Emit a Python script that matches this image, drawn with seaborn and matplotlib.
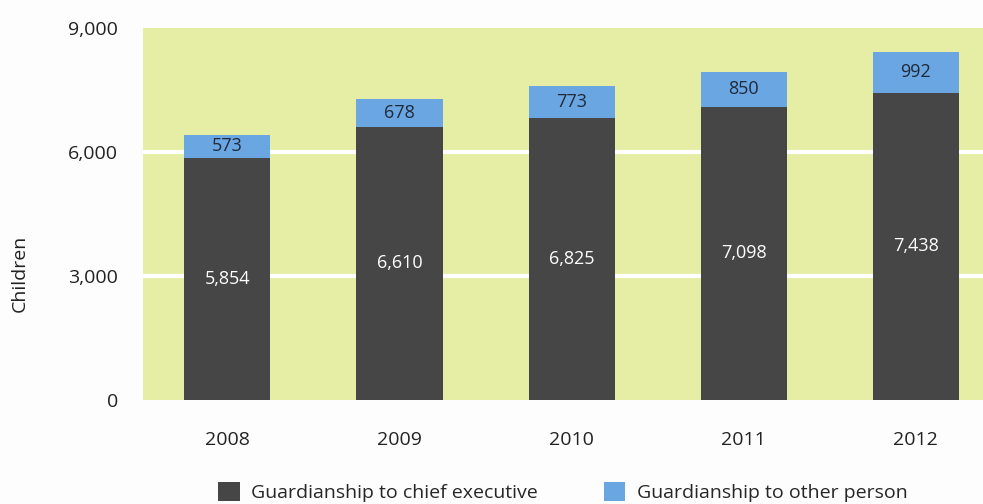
import matplotlib
matplotlib.use("Agg")
import matplotlib.pyplot as plt
from matplotlib.patches import Patch
import seaborn as sns
import pandas as pd

years = ["2008", "2009", "2010", "2011", "2012"]
chief_executive = [5854, 6610, 6825, 7098, 7438]
other_person = [573, 678, 773, 850, 992]
y_ticks = [0, 3000, 6000, 9000]
y_tick_labels = ["0", "3,000", "6,000", "9,000"]
series_names = ["Guardianship to chief executive", "Guardianship to other person"]

dark = "#464646"
blue = "#6aa6e2"
panel = "#e6eea6"

sns.set_theme(style="white")
plt.rcParams["font.family"] = ["Open Sans", "DejaVu Sans"]

df = pd.DataFrame({"year": years, "chief": chief_executive, "other": other_person})
df["total"] = df["chief"] + df["other"]

fig = plt.figure(figsize=(9.83, 5.04), dpi=100, facecolor="#fdfdfd")
ax = fig.add_axes([0.1455, 0.2063, 0.8545, 0.7377])
ax.set_facecolor(panel)

for g in [3000, 6000]:
    ax.axhline(g, color="white", lw=3, zorder=0.5)

sns.barplot(data=df, x="year", y="total", color=blue, width=0.5,
            saturation=1, linewidth=0, ax=ax, zorder=2)
sns.barplot(data=df, x="year", y="chief", color=dark, width=0.5,
            saturation=1, linewidth=0, ax=ax, zorder=3)

for i, (c, o) in enumerate(zip(chief_executive, other_person)):
    ax.text(i, c / 2, f"{c:,}", ha="center", va="center", color="white",
            fontsize=13, zorder=4)
    ax.text(i, c + o / 2, f"{o:,}", ha="center", va="center", color="#1f2a3a",
            fontsize=13, zorder=4)

ax.set_xlim(-0.49, 4.39)
ax.set_ylim(0, 9000)
ax.set_yticks(y_ticks)
ax.set_yticklabels(y_tick_labels)
ax.set_xlabel("")
ax.set_ylabel("Children", fontsize=14, color="#222222")
ax.yaxis.set_label_coords(-0.136, 0.341)
ax.tick_params(axis="y", length=0, pad=18, labelsize=14, labelcolor="#222222")
ax.tick_params(axis="x", length=0, pad=22, labelsize=14, labelcolor="#222222")
for s in ax.spines.values():
    s.set_visible(False)

handles = [Patch(facecolor=dark, edgecolor="none"), Patch(facecolor=blue, edgecolor="none")]
ax.legend(handles, series_names, loc="upper center", bbox_to_anchor=(0.5, -0.2),
          ncol=2, frameon=False, fontsize=14, handlelength=1.1, handleheight=1.1,
          columnspacing=3.4, handletextpad=0.6, borderaxespad=0)

fig.savefig("out.png", dpi=100, facecolor=fig.get_facecolor())
